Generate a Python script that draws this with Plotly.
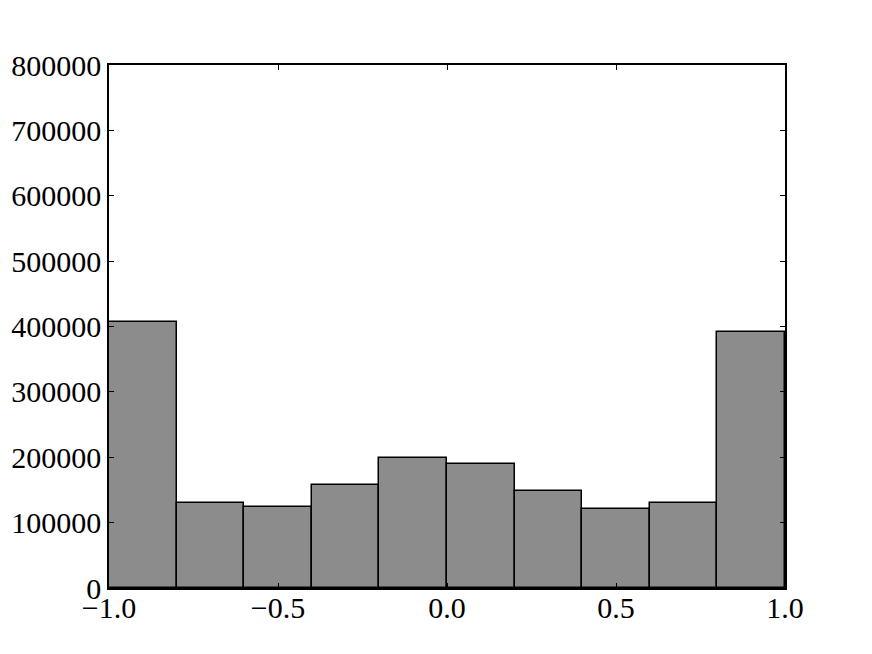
import plotly.graph_objects as go

# histogram bins (10 bins from -1 to 1) and counts
bin_centers = [-0.9, -0.7, -0.5, -0.3, -0.1, 0.1, 0.3, 0.5, 0.7, 0.9]
counts = [407300, 129500, 123400, 158000, 198400, 189200, 148400, 121300, 130500, 391100]

x_ticks = [-1.0, -0.5, 0.0, 0.5, 1.0]
x_labels = ["\u22121.0", "\u22120.5", "0.0", "0.5", "1.0"]
y_ticks = [0, 100000, 200000, 300000, 400000, 500000, 600000, 700000, 800000]

fig = go.Figure()

fig.add_trace(go.Bar(
    x=bin_centers,
    y=counts,
    width=0.2,
    marker=dict(color="#8c8c8c", line=dict(color="black", width=1.5)),
))

axis_style = dict(
    showgrid=False,
    zeroline=False,
    showline=True,
    linecolor="black",
    linewidth=1.5,
    mirror="ticks",
    ticks="inside",
    ticklen=5,
    tickwidth=1,
    tickcolor="black",
    automargin=False,
    tickfont=dict(family="Liberation Serif", size=30, color="black"),
)

# page body adds ~8px offset, so margins are shifted to compensate
fig.update_layout(
    width=872,
    height=654,
    margin=dict(l=101, r=95, t=57, b=74, autoexpand=False),
    plot_bgcolor="white",
    paper_bgcolor="white",
    showlegend=False,
    bargap=0,
    xaxis=dict(range=[-1, 1], tickvals=x_ticks, ticktext=x_labels,
               ticklabelstandoff=-8, **axis_style),
    yaxis=dict(range=[0, 800000], tickvals=y_ticks, tickformat="d", **axis_style),
)

fig.write_html("out.html")
